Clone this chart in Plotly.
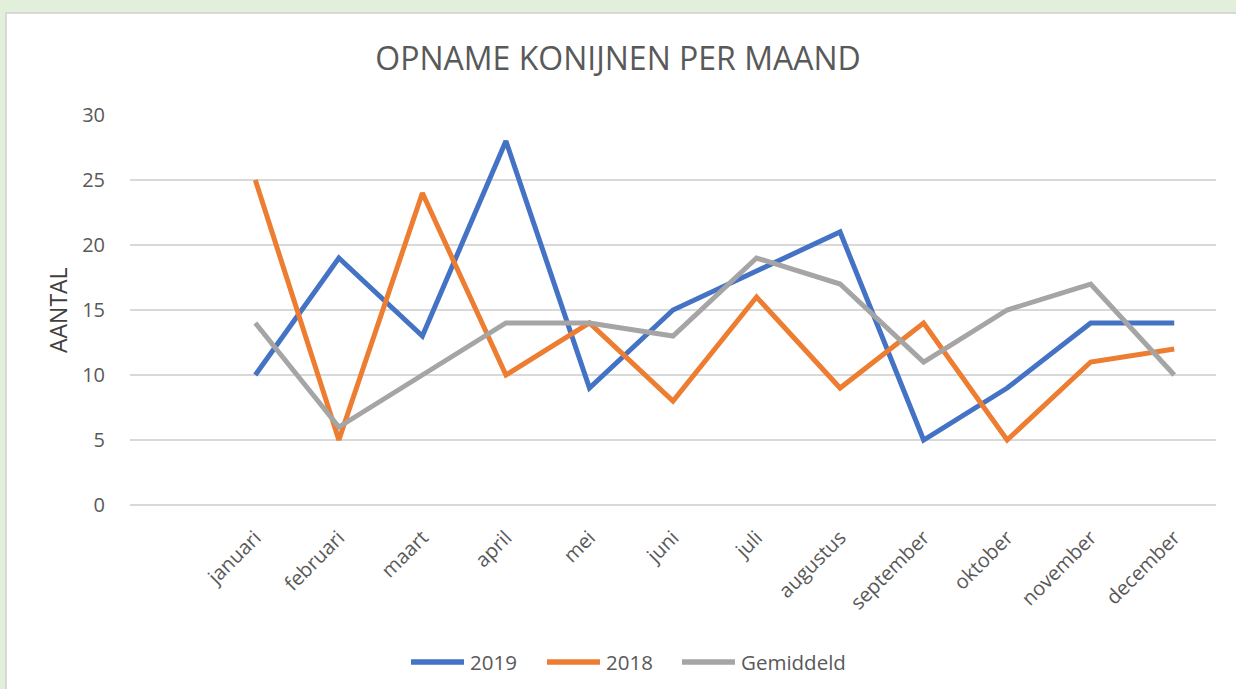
import plotly.graph_objects as go

maanden = ["januari", "februari", "maart", "april", "mei", "juni", "juli",
           "augustus", "september", "oktober", "november", "december"]
waarden_2019 = [10, 19, 13, 28, 9, 15, 18, 21, 5, 9, 14, 14]
waarden_2018 = [25, 5, 24, 10, 14, 8, 16, 9, 14, 5, 11, 12]
gemiddeld = [14, 6, 10, 14, 14, 13, 19, 17, 11, 15, 17, 10]

series_namen = ["2019", "2018", "Gemiddeld"]
series_kleuren = ["#4472C4", "#ED7D31", "#A5A5A5"]
series_waarden = [waarden_2019, waarden_2018, gemiddeld]

FONT = "Open Sans"
TXT = "#595959"

fig = go.Figure()
for naam, vals, kleur in zip(series_namen, series_waarden, series_kleuren):
    fig.add_trace(go.Scatter(x=maanden, y=vals, name=naam, mode="lines",
                             line=dict(color=kleur, width=5),
                             showlegend=False))

L, R, T, B = 130, 20, 115, 184
W, H = 1236, 689
pw, ph = W - L - R, H - T - B

def px(x):
    return (x - L) / pw

def py(y):
    return (H - B - y) / ph

shapes = [dict(type="rect", xref="paper", yref="paper", layer="below",
               x0=px(6), x1=px(1245), y0=py(700), y1=py(13),
               fillcolor="white", line=dict(color="#D0D0D0", width=1.5))]
annotations = [dict(text="AANTAL", xref="paper", yref="paper",
                    x=px(58), y=py(310), textangle=-90, showarrow=False,
                    font=dict(size=23, color="#404040", family=FONT),
                    xanchor="center", yanchor="middle")]

# custom legend (long line samples as in the original)
legend_x = [409, 545, 680]
leg_y = 662
for lx, naam, kleur in zip(legend_x, series_namen, series_kleuren):
    shapes.append(dict(type="line", xref="paper", yref="paper",
                       x0=px(lx + 2), x1=px(lx + 55), y0=py(leg_y), y1=py(leg_y),
                       line=dict(color=kleur, width=5.5), layer="above"))
    annotations.append(dict(text=naam, xref="paper", yref="paper",
                            x=px(lx + 59), y=py(leg_y), xanchor="left",
                            yanchor="middle", showarrow=False,
                            font=dict(size=20.5, color=TXT, family=FONT)))

fig.update_layout(
    width=W, height=H,
    margin=dict(l=L, r=R, t=T, b=B),
    paper_bgcolor="#E2EFDA",
    plot_bgcolor="rgba(0,0,0,0)",
    font=dict(family=FONT, color=TXT),
    title=dict(text="OPNAME KONIJNEN PER MAAND", x=618 / W, xanchor="center",
               y=1 - 59 / H, yanchor="middle",
               font=dict(size=32, color=TXT, family=FONT)),
    showlegend=False,
    shapes=shapes,
    annotations=annotations,
)

fig.update_xaxes(type="category", range=[-1.5, 11.5], showgrid=False,
                 showline=False, zeroline=False, tickangle=-45,
                 tickfont=dict(size=20, color=TXT), ticks="outside",
                 ticklen=12, tickcolor="rgba(0,0,0,0)")
fig.update_yaxes(range=[0, 30], dtick=5, showgrid=True, gridcolor="#D9D9D9",
                 gridwidth=1.5, zeroline=True, zerolinecolor="#D9D9D9",
                 zerolinewidth=1.5, showline=False,
                 tickfont=dict(size=20, color=TXT), ticks="",
                 ticklabelstandoff=24)

fig.write_html("out.html", post_script="document.body.style.margin='0';",
               config={"displayModeBar": False})
